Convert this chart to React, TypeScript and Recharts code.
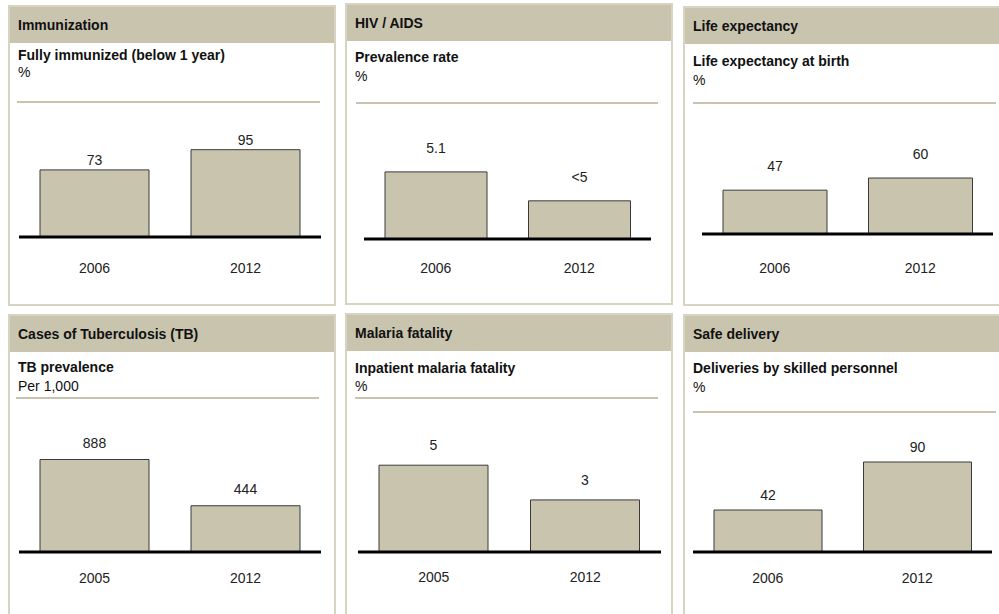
import { BarChart, Bar, XAxis, YAxis, LabelList } from "recharts";

// #region Health indicator data
const immunYears = ["2006", "2012"];
const immunValues = [73, 95];
const immunLabels = ["73", "95"];

const hivYears = ["2006", "2012"];
// 2012 is only published as "<5"; bar height
const hivValues = [5.1, 2.9];
const hivLabels = ["5.1", "<5"];

const lifeYears = ["2006", "2012"];
const lifeValues = [47, 60];
const lifeLabels = ["47", "60"];

const tbYears = ["2005", "2012"];
const tbValues = [888, 444];
const tbLabels = ["888", "444"];

const malariaYears = ["2005", "2012"];
const malariaValues = [5, 3];
const malariaLabels = ["5", "3"];

const deliveryYears = ["2006", "2012"];
const deliveryValues = [42, 90];
const deliveryLabels = ["42", "90"];
// #endregion

const build = (years: string[], values: number[], labels: string[]) =>
  years.map((year, i) => ({ year, value: values[i], label: labels[i] }));

const BEIGE = "#c9c4ae";
const BORDER = "#d8d4c4";
const FONT = "'Liberation Sans', Arial, sans-serif";
const PLOT_H = 125;
const AXIS_H = 45;

const panels = [
  {
    title: "Immunization",
    subtitle: "Fully immunized (below 1 year)",
    unit: "%",
    data: build(immunYears, immunValues, immunLabels),
    max: 136,
    box: { left: 8, top: 5, width: 328, height: 301 },
    subY: 50,
    unitY: 67,
    sepY: 97,
    sepX: [9, 312],
    plot: { left: 19, right: 321, base: 237 },
    barSize: 109,
    labelOffset: 5,
    tickMargin: 20,
  },
  {
    title: "HIV / AIDS",
    subtitle: "Prevalence rate",
    unit: "%",
    data: build(hivYears, hivValues, hivLabels),
    max: 9.5,
    box: { left: 345, top: 3, width: 328, height: 302 },
    subY: 54,
    unitY: 73,
    sepY: 100,
    sepX: [11, 313],
    plot: { left: 364, right: 651, base: 239 },
    barSize: 102,
    labelOffset: 19,
    tickMargin: 18,
  },
  {
    title: "Life expectancy",
    subtitle: "Life expectancy at birth",
    unit: "%",
    data: build(lifeYears, lifeValues, lifeLabels),
    max: 134,
    box: { left: 683, top: 6, width: 330, height: 300 },
    subY: 55,
    unitY: 74,
    sepY: 97,
    sepX: [10, 313],
    plot: { left: 702, right: 993, base: 234 },
    barSize: 104,
    labelOffset: 19,
    tickMargin: 23,
  },
  {
    title: "Cases of Tuberculosis (TB)",
    subtitle: "TB prevalence",
    unit: "Per 1,000",
    data: build(tbYears, tbValues, tbLabels),
    max: 1200,
    box: { left: 8, top: 314, width: 328, height: 320 },
    subY: 53,
    unitY: 72,
    sepY: 84,
    sepX: [8, 311],
    plot: { left: 19, right: 321, base: 552 },
    barSize: 109,
    labelOffset: 12,
    tickMargin: 15,
  },
  {
    title: "Malaria fatality",
    subtitle: "Inpatient malaria fatality",
    unit: "%",
    data: build(malariaYears, malariaValues, malariaLabels),
    max: 7.2,
    box: { left: 345, top: 313, width: 328, height: 320 },
    subY: 55,
    unitY: 73,
    sepY: 85,
    sepX: [10, 313],
    plot: { left: 358, right: 661, base: 552 },
    barSize: 109,
    labelOffset: 15,
    tickMargin: 14,
  },
  {
    title: "Safe delivery",
    subtitle: "Deliveries by skilled personnel",
    unit: "%",
    data: build(deliveryYears, deliveryValues, deliveryLabels),
    max: 125,
    box: { left: 683, top: 314, width: 330, height: 320 },
    subY: 54,
    unitY: 73,
    sepY: 98,
    sepX: [10, 313],
    plot: { left: 693, right: 992, base: 552 },
    barSize: 108,
    labelOffset: 10,
    tickMargin: 15,
  },
];

type PanelProps = (typeof panels)[number];

const Panel = ({ p }: { p: PanelProps }) => {
  const { box } = p;
  return (
    <div
      style={{
        position: "absolute",
        left: box.left,
        top: box.top,
        width: box.width,
        height: box.height,
        background: "#fff",
      }}
    >
      <div
        style={{
          position: "absolute",
          left: 2,
          top: 2,
          width: box.width - 4,
          height: 36,
          background: BEIGE,
          lineHeight: "36px",
          paddingLeft: 8,
          boxSizing: "border-box",
          fontWeight: "bold",
          fontSize: 14,
          color: "#111",
        }}
      >
        {p.title}
      </div>
      <div
        style={{
          position: "absolute",
          left: 10,
          top: p.subY - 8,
          lineHeight: "16px",
          fontWeight: "bold",
          fontSize: 14,
          color: "#111",
          whiteSpace: "nowrap",
        }}
      >
        {p.subtitle}
      </div>
      <div
        style={{
          position: "absolute",
          left: 10,
          top: p.unitY - 8,
          lineHeight: "16px",
          fontSize: 14,
          color: "#111",
          whiteSpace: "nowrap",
        }}
      >
        {p.unit}
      </div>
      <div
        style={{
          position: "absolute",
          left: p.sepX[0],
          top: p.sepY - 1,
          width: p.sepX[1] - p.sepX[0],
          height: 2,
          background: BEIGE,
        }}
      />
      <div
        style={{
          position: "absolute",
          inset: 0,
          border: `2px solid ${BORDER}`,
          pointerEvents: "none",
        }}
      />
    </div>
  );
};

const MiniChart = ({ p }: { p: PanelProps }) => {
  const width = p.plot.right - p.plot.left;
  return (
    <div
      style={{
        position: "absolute",
        left: p.plot.left,
        top: p.plot.base - PLOT_H,
        width,
        height: PLOT_H + AXIS_H,
      }}
    >
      <BarChart
        width={width}
        height={PLOT_H + AXIS_H}
        data={p.data}
        margin={{ top: 0, right: 0, left: 0, bottom: 0 }}
      >
        <XAxis
          dataKey='year'
          height={AXIS_H}
          axisLine={{ stroke: "#000", strokeWidth: 3 }}
          tickLine={false}
          tickMargin={p.tickMargin}
          tick={{ fontSize: 14, fill: "#222", fontFamily: FONT }}
        />
        <YAxis
          hide
          type='number'
          scale='linear'
          domain={[0, p.max]}
          allowDataOverflow
        />
        <Bar
          dataKey='value'
          fill={BEIGE}
          stroke='#3a3a3a'
          strokeWidth={1}
          barSize={p.barSize}
          isAnimationActive={false}
        >
          <LabelList
            dataKey='label'
            position='top'
            offset={p.labelOffset}
            style={{ fontSize: 14, fill: "#222", fontFamily: FONT }}
          />
        </Bar>
      </BarChart>
    </div>
  );
};

const App = () => {
  return (
    <div
      style={{
        position: "absolute",
        left: 0,
        top: 0,
        width: 999,
        height: 614,
        overflow: "hidden",
        background: "#fff",
        fontFamily: FONT,
      }}
    >
      {panels.map((p) => (
        <Panel
          key={p.title}
          p={p}
        />
      ))}
      {panels.map((p) => (
        <MiniChart
          key={p.title + "-chart"}
          p={p}
        />
      ))}
    </div>
  );
};

export default App;
